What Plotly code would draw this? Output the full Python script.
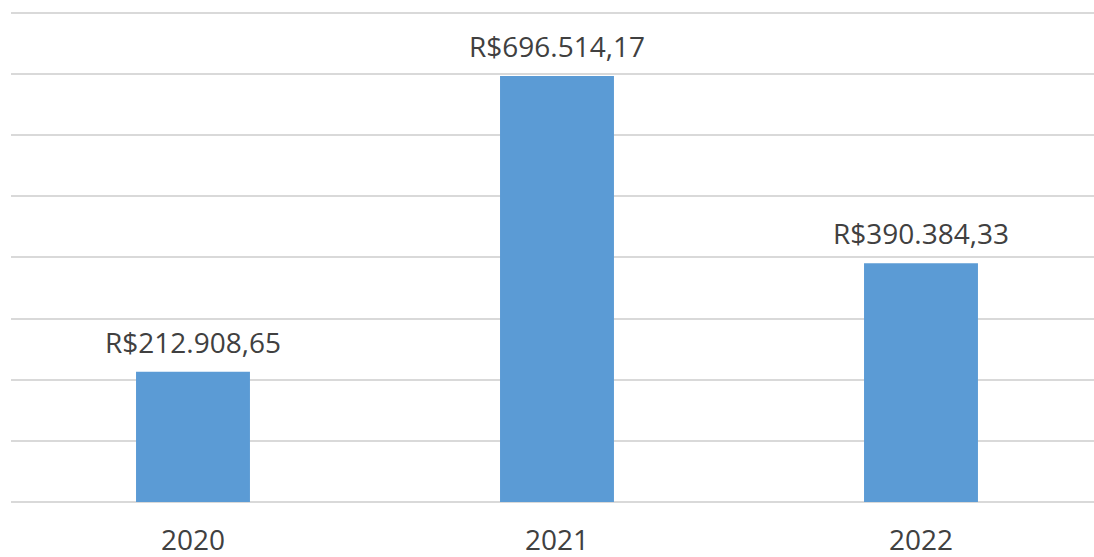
import plotly.graph_objects as go

years = ["2020", "2021", "2022"]
values = [212908.65, 696514.17, 390384.33]
labels = ["R$212.908,65", "R$696.514,17", "R$390.384,33"]
grid_vals = [0, 100000, 200000, 300000, 400000, 500000, 600000, 700000, 800000]

FONT = dict(family="Open Sans", size=28, color="#404040")

fig = go.Figure()
fig.add_trace(go.Bar(
    x=years, y=values, width=0.313,
    marker=dict(color="#5B9BD5", line=dict(width=0)),
    hoverinfo="skip",
))
for i, (v, t) in enumerate(zip(values, labels)):
    fig.add_annotation(x=i, y=v, xref="x", yref="y", text=t, showarrow=False,
                       yanchor="bottom", yshift=9, font=FONT)

fig.update_layout(
    width=1094, height=557,
    margin=dict(l=11, r=0, t=8.6, b=54.7, pad=0),
    paper_bgcolor="white", plot_bgcolor="white",
    showlegend=False,
    xaxis=dict(type="category", range=[-0.5, 2.4753], showgrid=False, ticks="",
               showline=False, tickfont=FONT, ticklabelstandoff=19, automargin=False),
    yaxis=dict(range=[0, 806000], tickmode="array", tickvals=grid_vals,
               showgrid=True, gridcolor="#d9d9d9", automargin=False,
               gridwidth=1.5, zeroline=True, zerolinecolor="#d9d9d9", zerolinewidth=1.5,
               showticklabels=False, ticks=""),
)
fig.write_html(
    "out.html",
    config={"displayModeBar": False},
    post_script="document.body.style.margin='0';document.body.style.overflow='hidden';",
)
